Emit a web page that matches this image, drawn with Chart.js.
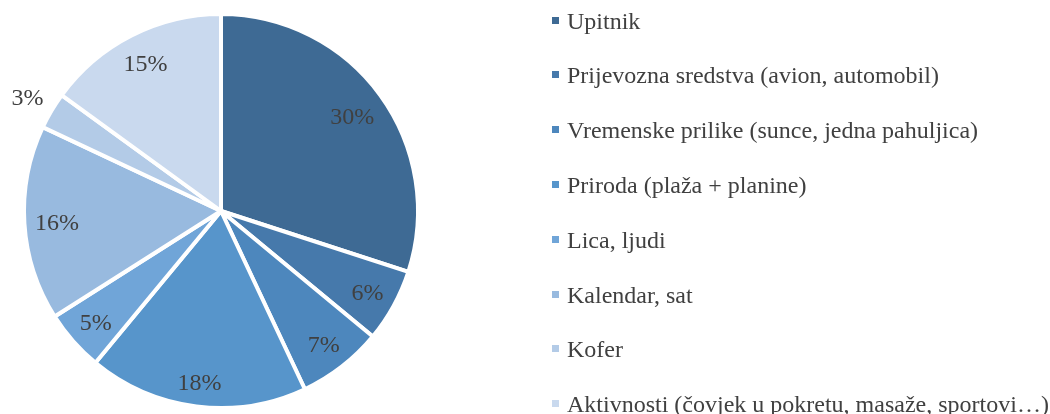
<!DOCTYPE html>
<html>
<head>
<meta charset="utf-8">
<script src="https://cdn.jsdelivr.net/npm/chart.js@4.4.1/dist/chart.umd.min.js"></script>
<style>
  html, body { margin: 0; padding: 0; background: #ffffff; }
  #wrap { position: relative; width: 1050px; height: 414px; }
  #probe { position: absolute; left: -9999px; top: 0; font-family: "Liberation Serif"; font-size: 24px; }
</style>
</head>
<body>
<div id="probe">Upitnik 30%</div>
<div id="wrap"><canvas id="c" width="1050" height="414"></canvas></div>
<script>
const categories = [
  "Upitnik",
  "Prijevozna sredstva (avion, automobil)",
  "Vremenske prilike (sunce, jedna pahuljica)",
  "Priroda (plaža + planine)",
  "Lica, ljudi",
  "Kalendar, sat",
  "Kofer",
  "Aktivnosti (čovjek u pokretu, masaže, sportovi…)"
];
const shares = [30, 6, 7, 18, 5, 16, 3, 15];
const percentLabels = ["30%", "6%", "7%", "18%", "5%", "16%", "3%", "15%"];
const sliceColors = ["#3E6A94", "#4679AB", "#4D87BD", "#5795CB", "#70A5D8", "#98BADF", "#B3CBE7", "#C9D9EE"];

const FONT = '"Liberation Serif", "Times New Roman", "DejaVu Serif", serif';
const TEXT_COLOR = "#404040";

// Excel-like "inside end" / "outside end" placement of data labels
const labelPlugin = {
  id: 'sliceLabels',
  afterDatasetsDraw(chart) {
    const ctx = chart.ctx;
    const meta = chart.getDatasetMeta(0);
    ctx.save();
    ctx.font = "24px " + FONT;
    ctx.fillStyle = TEXT_COLOR;
    ctx.textAlign = "center";
    ctx.textBaseline = "middle";
    const hh = 12, pad = 10;
    meta.data.forEach((arc, i) => {
      const p = arc.getProps(['x', 'y', 'startAngle', 'endAngle', 'outerRadius'], true);
      const mid = (p.startAngle + p.endAngle) / 2;
      const hw = ctx.measureText(percentLabels[i]).width / 2;
      const c = Math.cos(mid), s = Math.sin(mid);
      const proj = Math.abs(c) * hw + Math.abs(s) * hh;
      const outside = (p.endAngle - p.startAngle) < 0.25;
      const r = outside ? p.outerRadius + pad + proj - 2 : p.outerRadius - pad - proj;
      ctx.fillText(percentLabels[i], p.x + c * r, p.y + s * r + 2);
    });
    ctx.restore();
  }
};

const legendPlugin = {
  id: 'sideLegend',
  afterDraw(chart) {
    const ctx = chart.ctx;
    ctx.save();
    ctx.font = "24px " + FONT;
    ctx.textBaseline = "alphabetic";
    ctx.textAlign = "left";
    categories.forEach((name, i) => {
      const base = 28.5 + i * 54.8;
      ctx.fillStyle = sliceColors[i];
      ctx.fillRect(552, Math.round(base - 12), 7, 7);
      ctx.fillStyle = TEXT_COLOR;
      ctx.fillText(name, 567, base);
    });
    ctx.restore();
  }
};

function build() {
  new Chart(document.getElementById('c'), {
    type: 'pie',
    data: {
      labels: categories,
      datasets: [{
        data: shares,
        backgroundColor: sliceColors,
        borderColor: "#ffffff",
        borderWidth: 4
      }]
    },
    options: {
      responsive: false,
      animation: false,
      layout: { padding: { left: 22, top: 12, right: 630, bottom: 4 } },
      plugins: {
        legend: { display: false },
        tooltip: { enabled: false }
      }
    },
    plugins: [labelPlugin, legendPlugin]
  });
}

if (document.fonts && document.fonts.load) {
  document.fonts.load('24px "Liberation Serif"').then(build, build);
} else {
  build();
}
</script>
</body>
</html>
